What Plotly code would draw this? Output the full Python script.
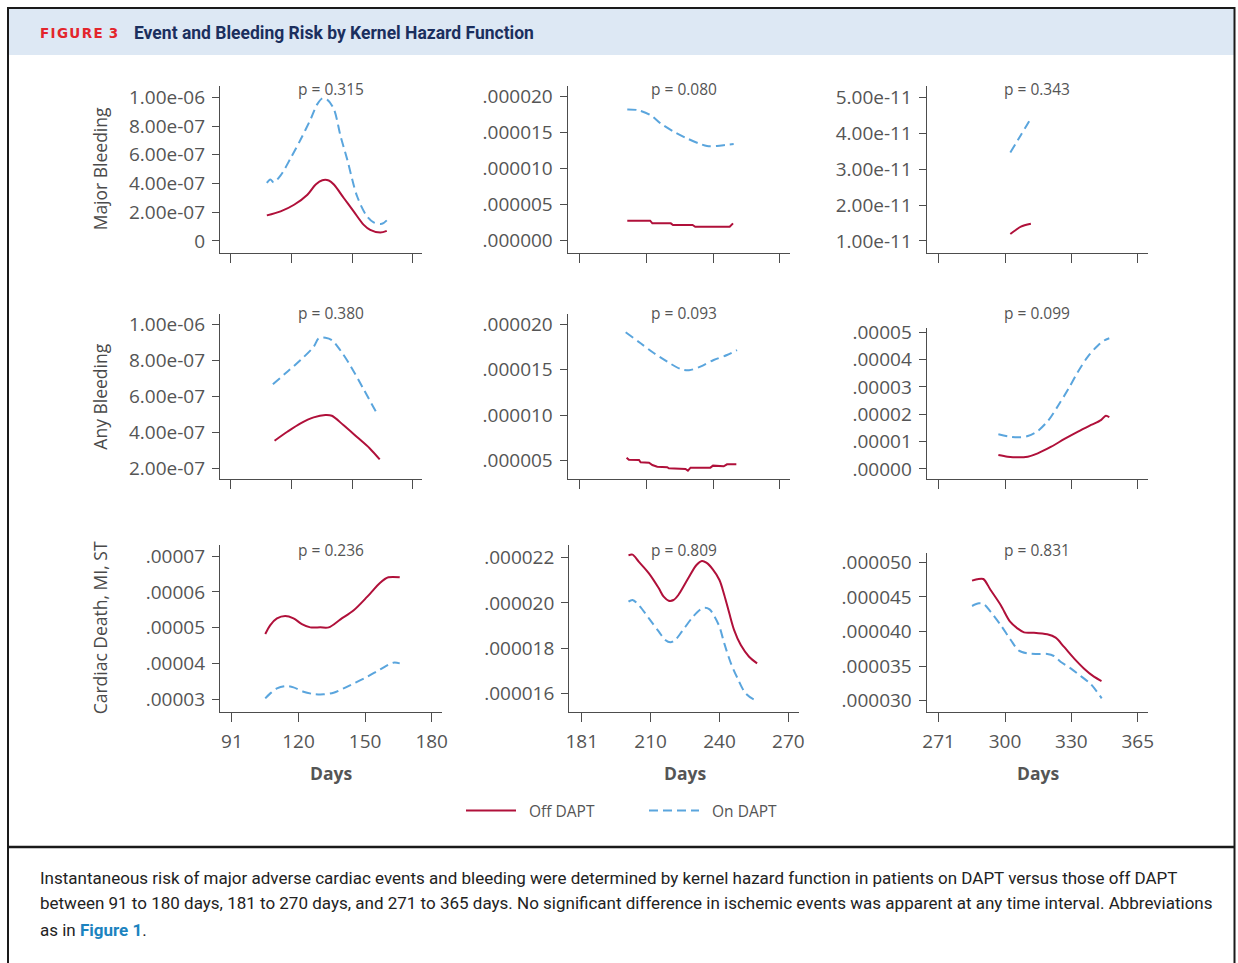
import numpy as np
import plotly.graph_objects as go

W, H = 1238, 963

OFF_COLOR = "#b0103a"
ON_COLOR = "#5aa5dd"
AXIS_COLOR = "#4d4d4d"
TEXT_COLOR = "#555555"
CHART_FONT = "Open Sans"

# Day ticks labelled on each interval's x axis (equally spaced on the axis)
ticks_91_180 = [91, 120, 150, 180]
ticks_181_270 = [181, 210, 240, 270]
ticks_271_365 = [271, 300, 330, 365]

# ---------------- Major bleeding ----------------
# 91-180 days (hazard x 1e-7)
mb1_off_days = [108.2, 114.8, 121.3, 127.9, 132.0, 135.3, 138.5, 141.0, 145.9, 150.8, 155.8, 159.0, 164.0, 167.2]
mb1_off = [1.78, 2.06, 2.52, 3.22, 3.93, 4.23, 4.21, 3.93, 2.99, 2.06, 1.12, 0.77, 0.58, 0.70]
mb1_on_days = [108.2, 109.9, 111.5, 114.8, 119.7, 124.6, 129.5, 132.8, 135.3, 137.7, 141.0, 144.3, 147.6, 152.5, 157.4, 160.7, 164.8, 167.2]
mb1_on = [4.04, 4.28, 4.09, 4.56, 5.79, 7.08, 8.48, 9.53, 9.93, 9.84, 9.18, 7.31, 5.68, 3.11, 1.71, 1.29, 1.19, 1.43]
# 181-270 days (hazard x 1e-6)
mb2_off_days = [201.7, 211.7, 212.7, 221.0, 222.0, 230.8, 232.0, 247.5, 249.0]
mb2_off = [2.78, 2.78, 2.41, 2.41, 2.18, 2.18, 1.94, 1.94, 2.41]
mb2_on_days = [201.7, 206.1, 211.9, 216.4, 222.4, 228.3, 234.3, 237.3, 241.8, 246.3, 249.3]
mb2_on = [18.24, 18.15, 17.45, 16.30, 15.14, 14.21, 13.43, 13.15, 13.15, 13.33, 13.43]
# 271-365 days (hazard x 1e-11)
mb3_off_days = [302.4, 304.9, 307.2, 311.7]
mb3_off = [1.195, 1.306, 1.40, 1.48]
mb3_on_days = [302.4, 307.2, 312.0]
mb3_on = [3.46, 3.95, 4.44]

# ---------------- Any bleeding ----------------
# 91-180 days (hazard x 1e-7)
ab1_off_days = [111.9, 118.0, 124.5, 131.0, 136.8, 140.0, 145.7, 152.3, 158.8, 163.7]
ab1_off = [3.52, 4.02, 4.49, 4.82, 4.95, 4.91, 4.39, 3.74, 3.09, 2.48]
ab1_on_days = [111.1, 118.0, 124.5, 131.0, 133.5, 136.8, 140.0, 144.1, 149.0, 155.5, 162.1]
ab1_on = [6.66, 7.36, 8.01, 8.75, 9.22, 9.25, 9.12, 8.57, 7.73, 6.43, 5.08]
# 181-270 days (hazard x 1e-6)
ab2_off_days = [201.4, 202.4, 206.8, 207.5, 211.2, 212.7, 214.9, 219.4, 220.1, 225.4, 227.6, 228.7, 229.9, 234.3, 238.8, 240.0, 244.8, 246.3, 250.5]
ab2_off = [5.33, 5.11, 5.07, 4.82, 4.78, 4.52, 4.34, 4.27, 4.16, 4.16, 4.08, 3.90, 4.23, 4.23, 4.23, 4.45, 4.38, 4.60, 4.60]
ab2_on_days = [201.0, 207.5, 213.5, 219.4, 225.4, 229.2, 234.3, 240.3, 246.3, 250.8]
ab2_on = [19.12, 17.91, 16.81, 15.89, 15.08, 14.94, 15.34, 16.07, 16.62, 17.17]
# 271-365 days (hazard x 1e-5)
ab3_off_days = [297.1, 301.2, 305.8, 310.3, 314.8, 320.9, 326.9, 333.5, 340.4, 345.6, 348.2, 350.0]
ab3_off = [0.512, 0.451, 0.427, 0.451, 0.573, 0.817, 1.098, 1.366, 1.61, 1.79, 1.95, 1.89]
ab3_on_days = [297.1, 301.2, 305.8, 310.3, 314.8, 319.7, 324.2, 328.8, 333.5, 338.7, 343.9, 347.3, 350.0]
ab3_on = [1.268, 1.195, 1.159, 1.207, 1.39, 1.79, 2.34, 2.95, 3.56, 4.11, 4.51, 4.70, 4.78]

# ---------------- Cardiac death, MI, ST ----------------
# 91-180 days (hazard x 1e-5)
cd1_off_days = [105.5, 107.7, 110.6, 114.2, 117.8, 121.5, 125.3, 129.8, 133.6, 138.9, 145.0, 151.0, 156.8, 160.5, 165.6]
cd1_off = [4.823, 5.074, 5.26, 5.326, 5.26, 5.102, 5.009, 5.009, 5.009, 5.233, 5.493, 5.865, 6.256, 6.405, 6.405]
cd1_on_days = [105.5, 107.7, 110.6, 114.2, 117.8, 122.2, 126.7, 131.3, 135.8, 140.3, 145.0, 151.0, 156.8, 162.7, 165.6]
cd1_on = [3.028, 3.167, 3.307, 3.372, 3.335, 3.214, 3.149, 3.14, 3.186, 3.307, 3.447, 3.633, 3.837, 4.023, 4.005]
# 181-270 days (hazard x 1e-6)
cd2_off_days = [200.7, 202.4, 205.0, 209.3, 213.6, 215.7, 217.9, 220.0, 222.1, 226.4, 230.0, 232.4, 234.3, 237.1, 240.0, 242.1, 244.3, 246.4, 249.3, 252.9, 256.4]
cd2_off = [22.103, 22.133, 21.823, 21.307, 20.644, 20.275, 20.098, 20.128, 20.349, 21.086, 21.676, 21.853, 21.779, 21.484, 21.012, 20.349, 19.538, 18.8, 18.137, 17.621, 17.327]
cd2_on_days = [200.7, 202.4, 205.0, 209.3, 213.6, 216.4, 218.6, 220.7, 223.6, 227.9, 231.4, 233.6, 235.7, 237.9, 240.0, 242.1, 245.0, 247.9, 251.4, 255.0, 256.4]
cd2_on = [20.054, 20.128, 19.907, 19.317, 18.727, 18.359, 18.255, 18.359, 18.727, 19.317, 19.685, 19.789, 19.715, 19.391, 18.948, 18.211, 17.327, 16.663, 16.0, 15.734, 15.705]
# 271-365 days (hazard x 1e-6)
cd3_off_days = [285.6, 287.8, 290.5, 293.7, 298.1, 302.3, 305.6, 308.6, 313.1, 319.1, 322.9, 326.6, 331.4, 336.6, 341.9, 345.9]
cd3_off = [47.35, 47.54, 47.59, 46.0, 43.83, 41.42, 40.46, 39.88, 39.83, 39.59, 39.11, 37.81, 36.12, 34.67, 33.47, 32.84]
cd3_on_days = [285.6, 288.6, 290.8, 293.7, 298.1, 302.6, 306.3, 310.0, 314.6, 319.1, 322.1, 325.1, 329.7, 334.9, 340.2, 346.0]
cd3_on = [43.69, 44.07, 43.93, 42.87, 40.94, 38.77, 37.23, 36.84, 36.75, 36.75, 36.46, 35.64, 34.67, 33.57, 32.41, 30.34]

# p values per panel (row-major)
p_values = ["p = 0.315", "p = 0.080", "p = 0.343",
            "p = 0.380", "p = 0.093", "p = 0.099",
            "p = 0.236", "p = 0.809", "p = 0.831"]

row_titles = ["Major Bleeding", "Any Bleeding", "Cardiac Death, MI, ST"]

# Y tick values and labels per panel
y_ticks = [
    ([0, 2e-7, 4e-7, 6e-7, 8e-7, 1e-6], ["0", "2.00e-07", "4.00e-07", "6.00e-07", "8.00e-07", "1.00e-06"]),
    ([0, 5e-6, 10e-6, 15e-6, 20e-6], [".000000", ".000005", ".000010", ".000015", ".000020"]),
    ([1e-11, 2e-11, 3e-11, 4e-11, 5e-11], ["1.00e-11", "2.00e-11", "3.00e-11", "4.00e-11", "5.00e-11"]),
    ([2e-7, 4e-7, 6e-7, 8e-7, 1e-6], ["2.00e-07", "4.00e-07", "6.00e-07", "8.00e-07", "1.00e-06"]),
    ([5e-6, 10e-6, 15e-6, 20e-6], [".000005", ".000010", ".000015", ".000020"]),
    ([0, 1e-5, 2e-5, 3e-5, 4e-5, 5e-5], [".00000", ".00001", ".00002", ".00003", ".00004", ".00005"]),
    ([3e-5, 4e-5, 5e-5, 6e-5, 7e-5], [".00003", ".00004", ".00005", ".00006", ".00007"]),
    ([16e-6, 18e-6, 20e-6, 22e-6], [".000016", ".000018", ".000020", ".000022"]),
    ([30e-6, 35e-6, 40e-6, 45e-6, 50e-6], [".000030", ".000035", ".000040", ".000045", ".000050"]),
]

# Panel series: (tick days, off days, off values, on days, on values, unit, step-like off curve)
panels = [
    (ticks_91_180, mb1_off_days, mb1_off, mb1_on_days, mb1_on, 1e-7, False),
    (ticks_181_270, mb2_off_days, mb2_off, mb2_on_days, mb2_on, 1e-6, True),
    (ticks_271_365, mb3_off_days, mb3_off, mb3_on_days, mb3_on, 1e-11, False),
    (ticks_91_180, ab1_off_days, ab1_off, ab1_on_days, ab1_on, 1e-7, False),
    (ticks_181_270, ab2_off_days, ab2_off, ab2_on_days, ab2_on, 1e-6, True),
    (ticks_271_365, ab3_off_days, ab3_off, ab3_on_days, ab3_on, 1e-5, False),
    (ticks_91_180, cd1_off_days, cd1_off, cd1_on_days, cd1_on, 1e-5, False),
    (ticks_181_270, cd2_off_days, cd2_off, cd2_on_days, cd2_on, 1e-6, False),
    (ticks_271_365, cd3_off_days, cd3_off, cd3_on_days, cd3_on, 1e-6, False),
]

# ---- layout geometry (pixels) ----
# plot-area boxes: (left, right, top, bottom)
boxes = [
    (220, 422, 86, 252.7), (567.7, 790, 86, 252.7), (926.7, 1148, 86, 252.7),
    (220, 422, 314.3, 479), (567.7, 790, 314.3, 479), (926.7, 1148, 327.7, 479),
    (220, 442, 545, 711.7), (569.3, 799, 545, 711.7), (926.7, 1148, 552.7, 711.7),
]
y_ranges = [
    (-0.082e-6, 1.079e-6), (-1.67e-6, 21.49e-6), (0.674e-11, 5.31e-11),
    (1.388e-7, 10.557e-7), (2.98e-6, 21.1e-6), (-0.366e-5, 5.168e-5),
    (2.656e-5, 7.307e-5), (15.19e-6, 22.56e-6), (28.41e-6, 51.39e-6),
]
x_range = [-0.18, 3.155]


def px(x):
    return x / W


def py(y):
    return 1 - y / H


def day_pos(days, ticks):
    """Place days on the axis where the labelled ticks are evenly spaced."""
    return np.interp(days, ticks, np.arange(len(ticks)))


fig = go.Figure()
layout_axes = {}

for i, (ticks, off_d, off_v, on_d, on_v, unit, stepped) in enumerate(panels):
    n = i + 1
    xa = "x" if n == 1 else f"x{n}"
    ya = "y" if n == 1 else f"y{n}"
    fig.add_trace(go.Scatter(
        x=day_pos(off_d, ticks), y=np.array(off_v) * unit,
        mode="lines", name="\u00a0\u00a0Off DAPT", showlegend=(n == 1), legendrank=1,
        line=dict(color=OFF_COLOR, width=2, shape="linear" if stepped else "spline", smoothing=0.9),
        xaxis=xa, yaxis=ya, hoverinfo="skip"))
    fig.add_trace(go.Scatter(
        x=day_pos(on_d, ticks), y=np.array(on_v) * unit,
        mode="lines", name="\u00a0\u00a0On DAPT", showlegend=(n == 1), legendrank=2,
        line=dict(color=ON_COLOR, width=2, dash="9px,5px", shape="spline", smoothing=0.9),
        xaxis=xa, yaxis=ya, hoverinfo="skip"))

    left, right, top, bottom = boxes[i]
    bottom_row = i >= 6
    layout_axes["xaxis" if n == 1 else f"xaxis{n}"] = dict(
        domain=[px(left), px(right)], anchor=ya, range=x_range, automargin=False,
        tickvals=[0, 1, 2, 3], ticktext=[str(t) for t in ticks],
        showticklabels=bottom_row, ticks="outside", ticklen=9, tickwidth=1.3,
        tickcolor=AXIS_COLOR, showline=True, linecolor=AXIS_COLOR, linewidth=1.3,
        showgrid=False, zeroline=False, ticklabelstandoff=3,
        tickfont=dict(family=CHART_FONT, size=19, color=TEXT_COLOR))
    tv, tt = y_ticks[i]
    layout_axes["yaxis" if n == 1 else f"yaxis{n}"] = dict(
        domain=[py(bottom), py(top)], anchor=xa, range=list(y_ranges[i]), automargin=False,
        tickvals=tv, ticktext=tt, ticks="outside", ticklen=7, tickwidth=1.3,
        tickcolor=AXIS_COLOR, showline=True, linecolor=AXIS_COLOR, linewidth=1.3,
        showgrid=False, zeroline=False, ticklabelstandoff=3,
        tickfont=dict(family=CHART_FONT, size=19, color=TEXT_COLOR))

annotations = []

# p-value labels above each panel
p_centers_x = [331, 684, 1037]
p_centers_y = [89, 313, 550]
for i, label in enumerate(p_values):
    annotations.append(dict(
        x=px(p_centers_x[i % 3]), y=py(p_centers_y[i // 3]), xref="paper", yref="paper",
        text=label, showarrow=False, xanchor="center", yanchor="middle",
        font=dict(family=CHART_FONT, size=15.5, color=TEXT_COLOR)))

# row titles
for r, title in enumerate(row_titles):
    top, bottom = boxes[3 * r][2], boxes[3 * r][3]
    annotations.append(dict(
        x=px(100), y=py((top + bottom) / 2), xref="paper", yref="paper",
        text=title, showarrow=False, textangle=-90, xanchor="center", yanchor="middle",
        font=dict(family=CHART_FONT, size=17.5, color="#4a4a4a")))

# x axis titles
for cx in [331, 685, 1038]:
    annotations.append(dict(
        x=px(cx), y=py(773), xref="paper", yref="paper", text="<b>Days</b>",
        showarrow=False, xanchor="center", yanchor="middle",
        font=dict(family=CHART_FONT, size=17.5, color=TEXT_COLOR)))

# header
annotations.append(dict(
    x=px(38), y=py(33), xref="paper", yref="paper",
    text="<b>F\u200aI\u200aG\u200aU\u200aR\u200aE\u00a0\u200a3</b>",
    showarrow=False, xanchor="left", yanchor="middle",
    font=dict(family="DejaVu Sans", size=13.5, color="#e3252c")))
annotations.append(dict(
    x=px(132), y=py(33), xref="paper", yref="paper",
    text="<b>Event and Bleeding Risk by Kernel Hazard Function</b>",
    showarrow=False, xanchor="left", yanchor="middle",
    font=dict(family="Roboto", size=17.5, color="#1b2f5e")))

# caption
caption_lines = [
    "Instantaneous risk of major adverse cardiac events and bleeding were determined by kernel hazard function in patients on DAPT versus those off DAPT",
    "between 91 to 180 days, 181 to 270 days, and 271 to 365 days. No significant difference in ischemic events was apparent at any time interval. Abbreviations",
    "as in <b><span style='color:#1c83bf'>Figure 1</span></b>.",
]
for line, yc in zip(caption_lines, [878, 903, 930]):
    annotations.append(dict(
        x=px(38), y=py(yc), xref="paper", yref="paper", text=line,
        showarrow=False, xanchor="left", yanchor="middle",
        font=dict(family="Roboto", size=17.0, color="#222222")))

shapes = [
    # header band
    dict(type="rect", xref="paper", yref="paper", x0=px(9), x1=px(1234), y0=py(55), y1=py(9),
         fillcolor="#dde8f4", line=dict(width=0), layer="below"),
    # outer frame
    dict(type="rect", xref="paper", yref="paper", x0=px(8), x1=px(1234.5), y0=py(990), y1=py(8),
         fillcolor="rgba(0,0,0,0)", line=dict(color="#1a1a1a", width=2)),
    # caption divider
    dict(type="line", xref="paper", yref="paper", x0=px(8), x1=px(1234.5), y0=py(847), y1=py(847),
         line=dict(color="#1a1a1a", width=2.5)),
]

fig.update_layout(
    width=W, height=H, autosize=False,
    margin=dict(l=0, r=0, t=0, b=0, pad=0, autoexpand=False),
    paper_bgcolor="white", plot_bgcolor="white",
    annotations=annotations, shapes=shapes,
    showlegend=True,
    legend=dict(orientation="h", x=px(461), y=py(811), xanchor="left", yanchor="middle",
                entrywidth=118, entrywidthmode="pixels", itemwidth=50,
                font=dict(family=CHART_FONT, size=15.5, color=TEXT_COLOR),
                bgcolor="rgba(0,0,0,0)"),
    **layout_axes,
)

fig.write_html("out.html")
